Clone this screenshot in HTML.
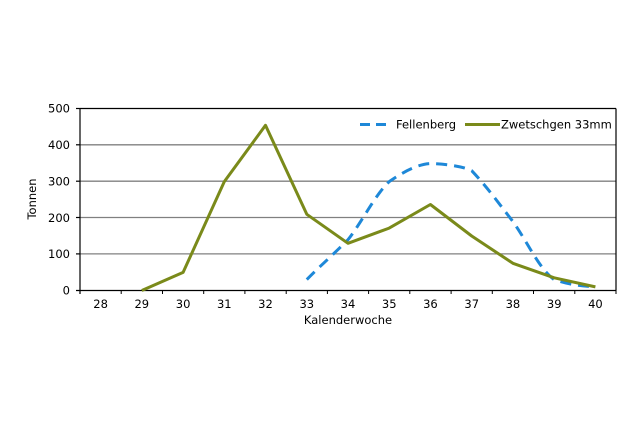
<!DOCTYPE html>
<html><head><meta charset="utf-8"><style>
html,body{margin:0;padding:0;background:#fff;}
svg text{font-family:"DejaVu Sans","Liberation Sans",sans-serif;font-size:11.5px;fill:#000;}
</style></head><body>
<svg width="620" height="420" viewBox="0 0 620 420" xmlns="http://www.w3.org/2000/svg">
<g stroke="#808080" stroke-width="1.3">
<line x1="80" y1="144.8" x2="616" y2="144.8"/>
<line x1="80" y1="181.2" x2="616" y2="181.2"/>
<line x1="80" y1="217.5" x2="616" y2="217.5"/>
<line x1="80" y1="253.9" x2="616" y2="253.9"/>
</g>
<g stroke="#000" stroke-width="1.2" fill="none">
<line x1="80" y1="108.5" x2="616" y2="108.5"/>
<line x1="616" y1="108.5" x2="616" y2="290.5"/>
<line x1="80" y1="108.5" x2="80" y2="294"/>
<line x1="76" y1="290.5" x2="616" y2="290.5"/>
<line x1="76" y1="108.5" x2="80" y2="108.5"/>
<line x1="76" y1="144.8" x2="80" y2="144.8"/>
<line x1="76" y1="181.2" x2="80" y2="181.2"/>
<line x1="76" y1="217.5" x2="80" y2="217.5"/>
<line x1="76" y1="253.9" x2="80" y2="253.9"/>
</g>
<g stroke="#000" stroke-width="1">
<line x1="121.2" y1="290" x2="121.2" y2="294"/><line x1="162.5" y1="290" x2="162.5" y2="294"/>
<line x1="203.7" y1="290" x2="203.7" y2="294"/><line x1="244.9" y1="290" x2="244.9" y2="294"/>
<line x1="286.2" y1="290" x2="286.2" y2="294"/><line x1="327.4" y1="290" x2="327.4" y2="294"/>
<line x1="368.6" y1="290" x2="368.6" y2="294"/><line x1="409.8" y1="290" x2="409.8" y2="294"/>
<line x1="451.1" y1="290" x2="451.1" y2="294"/><line x1="492.3" y1="290" x2="492.3" y2="294"/>
<line x1="533.5" y1="290" x2="533.5" y2="294"/><line x1="574.8" y1="290" x2="574.8" y2="294"/>
<line x1="616" y1="290" x2="616" y2="294"/>
</g>
<g text-anchor="end">
<text x="70" y="112.5">500</text><text x="70" y="149">400</text><text x="70" y="185.5">300</text>
<text x="70" y="222">200</text><text x="70" y="258">100</text><text x="70" y="294.5">0</text>
</g>
<g text-anchor="middle">
<text x="100.6" y="308">28</text><text x="141.8" y="308">29</text><text x="183.1" y="308">30</text>
<text x="224.3" y="308">31</text><text x="265.5" y="308">32</text><text x="306.8" y="308">33</text>
<text x="348" y="308">34</text><text x="389.2" y="308">35</text><text x="430.4" y="308">36</text>
<text x="471.7" y="308">37</text><text x="512.9" y="308">38</text><text x="554.2" y="308">39</text>
<text x="595.4" y="308">40</text>
<text x="348" y="324">Kalenderwoche</text>
<text transform="translate(36,199) rotate(-90)">Tonnen</text>
</g>
<path d="M306.8,279.6 C320,266 335,253 348,239.7 C362,222 375,195 389.2,181.6 C403,172 418,164 430.4,163.5 C445,164 462,166 471.7,170.7 C488,188 500,205 512.9,221.5 C528,243 540,270 554.2,279.6 C570,285 582,286 595.4,286.9" fill="none" stroke="#1e88d8" stroke-width="3" stroke-dasharray="11,7"/>
<polyline points="141.8,290.5 183.1,272.4 224.3,181.6 265.5,125.3 306.8,214.3 348,243.3 389.2,228.1 430.4,204.5 471.7,236 512.9,263.3 554.2,277.8 595.4,286.9" fill="none" stroke="#7a8a1a" stroke-width="3" stroke-linejoin="round"/>
<line x1="360" y1="124.5" x2="392" y2="124.5" stroke="#1e88d8" stroke-width="3" stroke-dasharray="10,6"/>
<text x="396" y="128.5">Fellenberg</text>
<line x1="465" y1="124.5" x2="500" y2="124.5" stroke="#7a8a1a" stroke-width="3"/>
<text x="501" y="128.5">Zwetschgen 33mm</text>
</svg>
</body></html>
